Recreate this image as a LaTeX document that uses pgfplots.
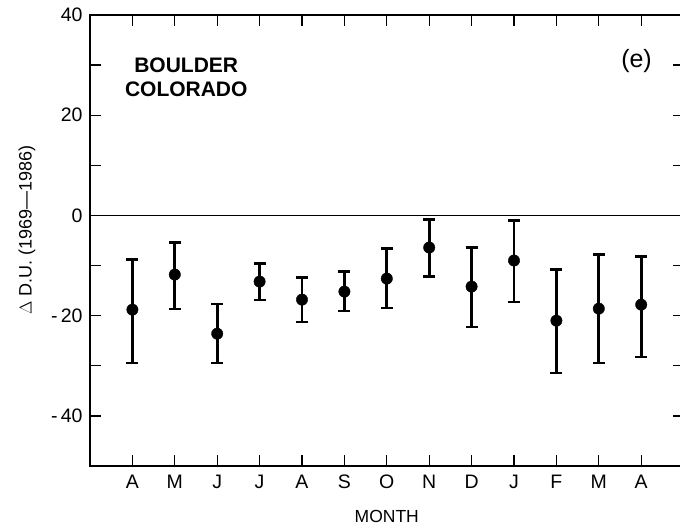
\documentclass[border=0pt]{standalone}
\usepackage{pgfplots}
\pgfplotsset{compat=1.18}
\usepackage{pgfplotstable}
\usepackage{fontspec}
\setmainfont{Liberation Sans}
\pgfplotstableread{
x y ep em
0 -18.8 10.0 10.6
1 -11.8 6.4 6.8
2 -23.6 6.0 5.8
3 -13.2 3.6 3.6
4 -16.8 4.4 4.4
5 -15.2 4.0 3.8
6 -12.6 6.0 5.8
7 -6.4 5.6 5.8
8 -14.2 7.8 8.0
9 -9.0 8.0 8.2
10 -21.0 10.2 10.4
11 -18.6 10.8 10.8
12 -17.8 9.6 10.4
}\datatable
\begin{document}
\begin{tikzpicture}
\useasboundingbox (0,0) rectangle (680pt,529pt);
\begin{axis}[
  at={(90pt,63pt)}, anchor=south west,
  scale only axis, width=593.6pt, height=451pt,
  xmin=-1, xmax=13, ymin=-50, ymax=40,
  xtick={0,...,12},
  xticklabels={A,M,J,J,A,S,O,N,D,J,F,M,A},
  ytick={-40,-20,0,20,40},
  yticklabels={{-\,40},{-\,20},0,20,40},
  minor ytick={-30,-10,10,30},
  tick align=inside,
  major tick length=11pt, minor tick length=11pt,
  tick style={line width=1.3pt, black},
  minor tick style={line width=1.3pt, black},
  axis line style={line width=1.6pt},
  tick label style={font=\fontsize{19.5}{23}\selectfont},
  /pgf/number format/assume math mode=true,
  yticklabel style={xshift=-4pt},
  xticklabel style={yshift=-5pt, text height=14pt, text depth=0pt},
  xlabel={MONTH},
  xlabel style={font=\fontsize{17.5}{20}\selectfont, at={(axis description cs:0.5,0)}, anchor=center, yshift=-50pt},
  ylabel={$\Delta$ D.U. (1969—1986)},
  ylabel style={font=\fontsize{18}{20}\selectfont, at={(axis description cs:-0.106,0.523)}, anchor=center},
  clip=false,
]
\addplot[black, line width=1.3pt, forget plot] coordinates {(-1,0) (13,0)};
\addplot[black, only marks, mark=*, mark size=5.7pt,
  error bars/.cd, y dir=both, y explicit,
  error bar style={line width=2.8pt},
  error mark options={rotate=90, mark size=6pt, line width=2.2pt}]
  table[x=x, y=y, y error plus=ep, y error minus=em] {\datatable};
\node[font=\bfseries\fontsize{21}{24}\selectfont, align=center] at (axis cs:1.27,27.6) {BOULDER\\COLORADO};
\node[font=\fontsize{25}{28}\selectfont] at (axis cs:11.89,30.8) {(e)};
\end{axis}
\end{tikzpicture}
\end{document}
